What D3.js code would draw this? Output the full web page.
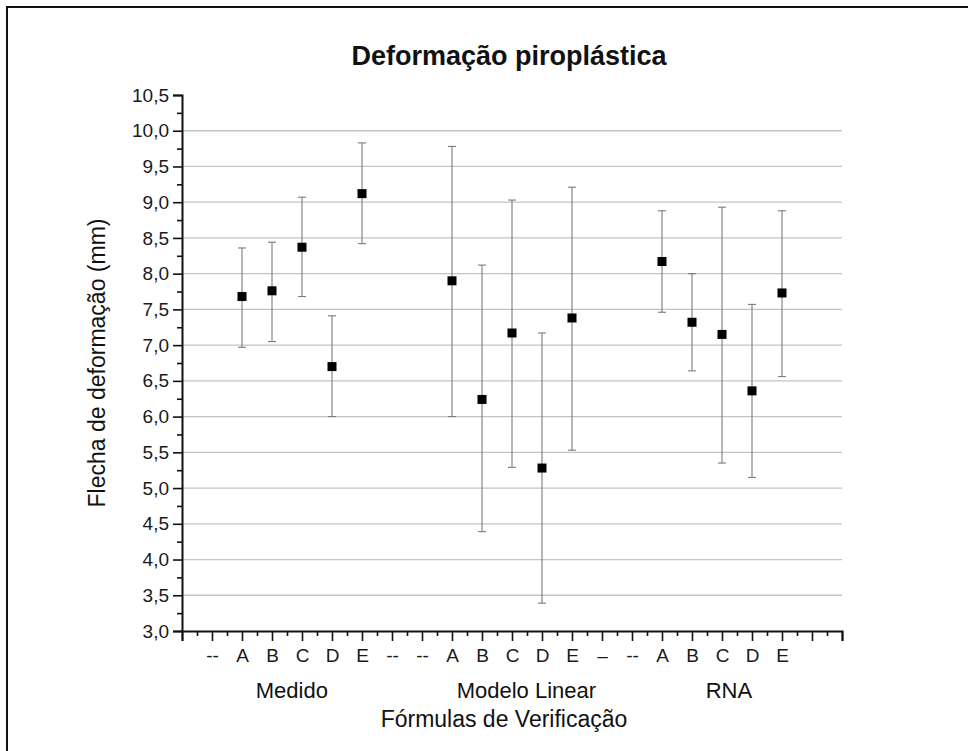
<!DOCTYPE html>
<html>
<head>
<meta charset="utf-8">
<script src="https://cdn.jsdelivr.net/npm/d3@7/dist/d3.min.js"></script>
<style>
  html, body { margin: 0; padding: 0; background: #fff; }
  svg { display: block; font-family: "Liberation Sans", Arial, sans-serif; }
</style>
</head>
<body>
<svg id="chart" width="968" height="751"></svg>
<script>
// Category tick labels along the x axis (one per integer position 0..22)
const tickLabels = ["", "--", "A", "B", "C", "D", "E", "--", "--", "A", "B", "C", "D", "E", "–", "--", "A", "B", "C", "D", "E", "", ""];

// Groups of formulas
const groups = ["Medido", "Modelo Linear", "RNA"];
const formulas = ["A", "B", "C", "D", "E"];

// Mean deflection (mm) with upper and lower error limits per group
const medidoMean  = [7.68, 7.76, 8.37, 6.70, 9.12];
const medidoUpper = [8.36, 8.44, 9.07, 7.41, 9.83];
const medidoLower = [6.97, 7.05, 7.68, 6.00, 8.42];

const linearMean  = [7.90, 6.24, 7.17, 5.28, 7.38];
const linearUpper = [9.78, 8.12, 9.03, 7.17, 9.21];
const linearLower = [6.00, 4.39, 5.29, 3.39, 5.53];

const rnaMean  = [8.17, 7.32, 7.15, 6.36, 7.73];
const rnaUpper = [8.88, 8.00, 8.93, 7.57, 8.88];
const rnaLower = [7.46, 6.64, 5.35, 5.15, 6.56];

// Position of formula "A" for each group on the x axis
const groupStart = [2, 9, 16];

const series = [
  { mean: medidoMean, upper: medidoUpper, lower: medidoLower },
  { mean: linearMean, upper: linearUpper, lower: linearLower },
  { mean: rnaMean,    upper: rnaUpper,    lower: rnaLower }
];

const points = [];
series.forEach((s, gi) => {
  formulas.forEach((f, i) => {
    points.push({ group: groups[gi], formula: f, x: groupStart[gi] + i,
                  mean: s.mean[i], upper: s.upper[i], lower: s.lower[i] });
  });
});

const svg = d3.select("#chart");
const plot = { left: 182, right: 842, top: 95, bottom: 631 };

const x = d3.scaleLinear().domain([0, 22]).range([plot.left, plot.right]);
const y = d3.scaleLinear().domain([3, 10.5]).range([plot.bottom, plot.top]);

// Outer frame
svg.append("rect")
  .attr("x", 7).attr("y", 7).attr("width", 970).attr("height", 760)
  .attr("fill", "none").attr("stroke", "#111").attr("stroke-width", 2);

// Title
svg.append("text")
  .attr("x", 509).attr("y", 65)
  .attr("text-anchor", "middle")
  .attr("font-size", 27).attr("font-weight", "bold").attr("fill", "#111")
  .text("Deformação piroplástica");

// Horizontal grid lines
const gridVals = d3.range(3.5, 10.01, 0.5);
svg.append("g").selectAll("line").data(gridVals).join("line")
  .attr("x1", plot.left).attr("x2", plot.right)
  .attr("y1", d => y(d)).attr("y2", d => y(d))
  .attr("stroke", "#c4c4c4").attr("stroke-width", 1.3);

const fmt = v => d3.format(".1f")(v).replace(".", ",");

// Y axis
const yAxis = svg.append("g").attr("transform", `translate(${plot.left},0)`)
  .call(d3.axisLeft(y).tickValues(d3.range(3, 10.51, 0.5)).tickFormat(fmt).tickSize(9).tickPadding(4));
yAxis.select(".domain").attr("stroke", "#111").attr("stroke-width", 2);
yAxis.selectAll(".tick line").attr("stroke", "#111").attr("stroke-width", 1.6);
yAxis.selectAll(".tick text").attr("font-size", 19).attr("fill", "#1a1a1a")
  .attr("font-family", "Liberation Sans, Arial, sans-serif");
svg.append("g").attr("transform", `translate(${plot.left},0)`)
  .call(d3.axisLeft(y).tickValues(d3.range(3.25, 10.5, 0.5)).tickFormat("").tickSize(5))
  .call(g => g.select(".domain").remove())
  .selectAll(".tick line").attr("stroke", "#111").attr("stroke-width", 1.6);

// X axis
const xAxis = svg.append("g").attr("transform", `translate(0,${plot.bottom})`)
  .call(d3.axisBottom(x).tickValues(d3.range(0, 23, 1)).tickFormat(i => tickLabels[i]).tickSize(10).tickPadding(8));
xAxis.select(".domain").attr("stroke", "#111").attr("stroke-width", 2);
xAxis.selectAll(".tick line").attr("stroke", "#111").attr("stroke-width", 1.6);
xAxis.selectAll(".tick text").attr("font-size", 19).attr("fill", "#1a1a1a")
  .attr("font-family", "Liberation Sans, Arial, sans-serif");
svg.append("g").attr("transform", `translate(0,${plot.bottom})`)
  .call(d3.axisBottom(x).tickValues(d3.range(0.5, 22, 1)).tickFormat("").tickSize(5))
  .call(g => g.select(".domain").remove())
  .selectAll(".tick line").attr("stroke", "#111").attr("stroke-width", 1.6);

// Group labels beneath the formula letters
const groupLabelX = [3.66, 11.48, 18.23];
svg.append("g").selectAll("text").data(groups).join("text")
  .attr("x", (d, i) => x(groupLabelX[i])).attr("y", 698)
  .attr("text-anchor", "middle").attr("font-size", 22).attr("fill", "#111")
  .text(d => d);

// Axis titles
svg.append("text")
  .attr("x", 504).attr("y", 727)
  .attr("text-anchor", "middle").attr("font-size", 23).attr("fill", "#111")
  .text("Fórmulas de Verificação");

svg.append("text")
  .attr("transform", `translate(105,${(plot.top + plot.bottom) / 2}) rotate(-90)`)
  .attr("text-anchor", "middle").attr("font-size", 23).attr("fill", "#111")
  .text("Flecha de deformação (mm)");

// Error bars
const eb = svg.append("g").attr("stroke", "#7a7a7a").attr("stroke-width", 1.1);
eb.selectAll("line.stem").data(points).join("line").attr("class", "stem")
  .attr("x1", d => x(d.x)).attr("x2", d => x(d.x))
  .attr("y1", d => y(d.upper)).attr("y2", d => y(d.lower));
eb.selectAll("line.capU").data(points).join("line").attr("class", "capU")
  .attr("x1", d => x(d.x) - 4).attr("x2", d => x(d.x) + 4)
  .attr("y1", d => y(d.upper)).attr("y2", d => y(d.upper));
eb.selectAll("line.capL").data(points).join("line").attr("class", "capL")
  .attr("x1", d => x(d.x) - 4).attr("x2", d => x(d.x) + 4)
  .attr("y1", d => y(d.lower)).attr("y2", d => y(d.lower));

// Mean markers
const ms = 9;
svg.append("g").selectAll("rect").data(points).join("rect")
  .attr("x", d => x(d.x) - ms / 2).attr("y", d => y(d.mean) - ms / 2)
  .attr("width", ms).attr("height", ms).attr("fill", "#000");
</script>
</body>
</html>
